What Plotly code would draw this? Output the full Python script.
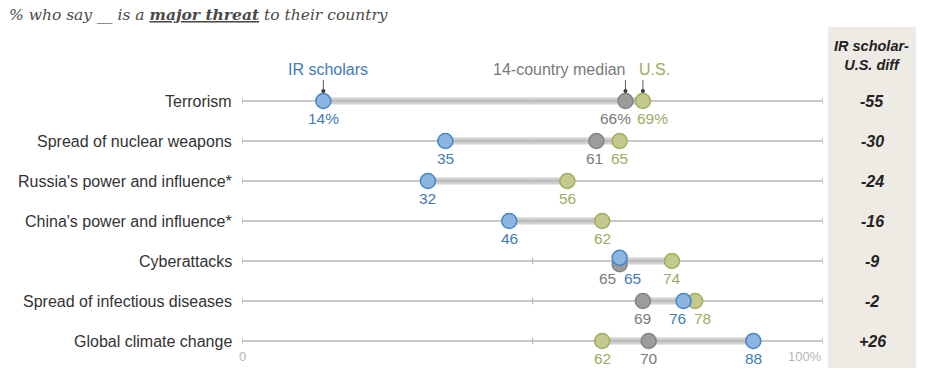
import plotly.graph_objects as go

# ---------------- data ----------------
categories = ["Terrorism", "Spread of nuclear weapons", "Russia's power and influence*",
              "China's power and influence*", "Cyberattacks", "Spread of infectious diseases",
              "Global climate change"]
ir_scholars = [14, 35, 32, 46, 65, 76, 88]
median_14 = [66, 61, None, None, 65, 69, 70]
us_values = [69, 65, 56, 62, 74, 78, 62]
diff_values = ["-55", "-30", "-24", "-16", "-9", "-2", "+26"]
axis_ticks = [0, 50, 100]

# ---------------- styles / layout helpers ----------------
W, H = 940, 379
ML, MR, MT, MB = 242, 117, 20, 5
PW = W - ML - MR
PH = H - MT - MB
ROW_PX = 40.0
Y_TOP = (101 - MT) / ROW_PX
Y_BOT = -(H - MB - 101) / ROW_PX


def px_x(p):
    return (p - ML) / PW


def px_y(p):
    return (H - MB - p) / PH


BLUE_F, BLUE_L, BLUE_T = "#8cb6e1", "#4a86c5", "#3f7cb6"
GRAY_F, GRAY_L, GRAY_T = "#9c9c9c", "#858585", "#7a7a7a"
OLIV_F, OLIV_L, OLIV_T = "#c4ca8b", "#a5ac60", "#a3a862"
FONT = "Liberation Sans, Arial, sans-serif"
FS = 15.5

label_dx = [(0, -10, 10), (0, -2, 0), (0, 0, 0), (0, 0, 0), (13, -12, 0), (-6, 0, 7), (0, 0, 0)]
dot_dy = [(0, 0, 0), (0, 0, 0), (0, 0, 0), (0, 0, 0), (0.08, -0.08, 0), (0, 0, 0), (0, 0, 0)]

fig = go.Figure()
ann = []
rows_y = [-i for i in range(len(categories))]

for i, y in enumerate(rows_y):
    vals = [v for v in (ir_scholars[i], median_14[i], us_values[i]) if v is not None]
    fig.add_trace(go.Scatter(x=[min(vals), max(vals)], y=[y, y], mode="lines",
                             line=dict(color="#d0d0d0", width=7), hoverinfo="skip",
                             showlegend=False))
    fig.add_trace(go.Scatter(x=[axis_ticks[0], axis_ticks[-1]], y=[y, y], mode="lines",
                             line=dict(color="#b6b6b6", width=1.3), hoverinfo="skip",
                             showlegend=False))
    for t in axis_ticks:
        fig.add_shape(type="line", x0=t, x1=t, y0=y - 0.08, y1=y + 0.08,
                      line=dict(color="#b6b6b6", width=1.2), layer="below")
    ann.append(dict(x=0, y=y, xref="x", yref="y", text=categories[i], showarrow=False,
                    xanchor="right", yanchor="middle", xshift=-8,
                    font=dict(family=FONT, size=16, color="#333333")))
    ann.append(dict(x=px_x(872), y=y, xref="paper", yref="y", text="<b><i>" + diff_values[i] + "</i></b>",
                    showarrow=False, xanchor="center", yanchor="middle",
                    font=dict(family=FONT, size=16, color="#222222")))

series = [
    (median_14, GRAY_F, GRAY_L, GRAY_T, 1),
    (us_values, OLIV_F, OLIV_L, OLIV_T, 2),
    (ir_scholars, BLUE_F, BLUE_L, BLUE_T, 0),
]
for vals, fcol, lcol, tcol, k in series:
    xs, ys = [], []
    for i, v in enumerate(vals):
        if v is None:
            continue
        xs.append(v)
        ys.append(rows_y[i] + dot_dy[i][k])
        txt = f"{v}%" if i == 0 else f"{v}"
        ann.append(dict(x=v, y=rows_y[i], xref="x", yref="y", text=txt, showarrow=False,
                        xanchor="center", yanchor="middle",
                        xshift=label_dx[i][k], yshift=-17,
                        font=dict(family=FONT, size=FS, color=tcol)))
    fig.add_trace(go.Scatter(x=xs, y=ys, mode="markers",
                             marker=dict(size=15, color=fcol, line=dict(color=lcol, width=1.6)),
                             hoverinfo="skip", showlegend=False))

leg = [("IR scholars", ir_scholars[0], BLUE_T, "center", 5),
       ("14-country median", median_14[0], GRAY_T, "right", 3),
       ("U.S.", us_values[0], OLIV_T, "left", -6)]
for text, v, col, anc, dx in leg:
    ann.append(dict(x=v, y=rows_y[0], xref="x", yref="y", text=text, showarrow=False,
                    xanchor=anc, yanchor="middle", xshift=dx, yshift=32,
                    font=dict(family=FONT, size=16, color=col)))
    fig.add_shape(type="line", x0=v, x1=v, y0=rows_y[0] + 0.52, y1=rows_y[0] + 0.25,
                  line=dict(color="#555555", width=1))
    fig.add_trace(go.Scatter(x=[v], y=[rows_y[0] + 0.25], mode="markers",
                             marker=dict(size=4, color="#333333"), hoverinfo="skip", showlegend=False))

ann.append(dict(x=axis_ticks[0], y=rows_y[-1], xref="x", yref="y", text=str(axis_ticks[0]),
                showarrow=False, xanchor="center", yanchor="middle", yshift=-15,
                font=dict(family=FONT, size=13, color="#b5b5b5")))
ann.append(dict(x=axis_ticks[-1], y=rows_y[-1], xref="x", yref="y", text=f"{axis_ticks[-1]}%",
                showarrow=False, xanchor="right", yanchor="middle", xshift=1, yshift=-15,
                font=dict(family=FONT, size=13, color="#b5b5b5")))

ann.append(dict(x=px_x(871), y=px_y(55), xref="paper", yref="paper",
                text="<b><i>IR scholar-<br>U.S. diff</i></b>", showarrow=False,
                xanchor="center", yanchor="middle",
                font=dict(family=FONT, size=14.5, color="#222222")))

ann.append(dict(x=px_x(7), y=px_y(14), xref="paper", yref="paper", xanchor="left", yanchor="middle",
                text="<i>% who say __ is a <b><u>major threat</u></b> to their country</i>",
                showarrow=False, font=dict(family="DejaVu Serif, Georgia, serif", size=15.5, color="#4a4a4a")))

fig.add_shape(type="rect", xref="paper", yref="paper",
              x0=px_x(828), x1=px_x(916), y0=px_y(368), y1=px_y(27),
              fillcolor="#eeebe4", line=dict(width=0), layer="below")

fig.update_layout(
    width=W, height=H, margin=dict(l=ML, r=MR, t=MT, b=MB),
    paper_bgcolor="white", plot_bgcolor="white",
    xaxis=dict(range=[0, 100], visible=False, fixedrange=True),
    yaxis=dict(range=[Y_BOT, Y_TOP], visible=False, fixedrange=True),
    annotations=ann, showlegend=False,
)
fig.write_html("out.html", config={"displayModeBar": False},
               post_script="document.body.style.margin='0';document.body.style.padding='0';")
